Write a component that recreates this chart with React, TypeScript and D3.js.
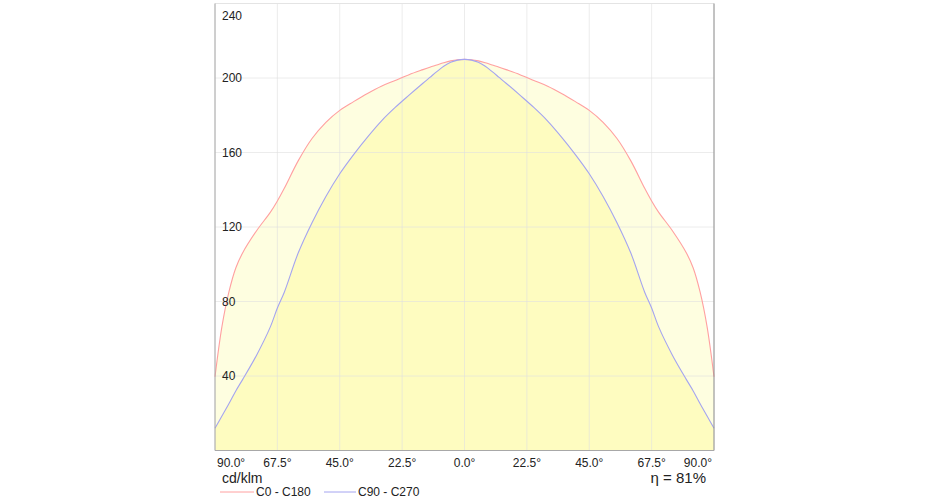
import React from "react";
import * as d3 from "d3";

const angles = [0, 2.5, 5, 7.5, 10, 12.5, 15, 20, 25, 30, 35, 40, 45, 50, 55, 60, 65, 67.5, 70, 75, 80, 82.5, 85, 87.5, 90];
const c0c180 = [210, 209.8, 209.2, 208.2, 207, 205.8, 204.5, 201.8, 198.7, 195.6, 191.7, 187.3, 182.6, 176.2, 167.5, 155.5, 140.8, 134, 128, 118, 106.2, 98, 85, 66.5, 39.6];
const c90c270 = [210, 209.6, 208.4, 206.3, 203.4, 200.3, 197.2, 190.8, 184.2, 176.9, 168.3, 158.9, 148.6, 136.4, 122.3, 106, 85, 76.5, 66.5, 51.2, 38.2, 32, 25.1, 18.5, 12];
const yTicks = [40, 80, 120, 160, 200, 240];
const xTicks = [-90, -67.5, -45, -22.5, 0, 22.5, 45, 67.5, 90];
const seriesNames = ["C0 - C180", "C90 - C270"];
const efficiency = "η = 81%";
const unitLabel = "cd/klm";

function mirror(vals: number[]) {
  const pts: [number, number][] = [];
  for (let i = angles.length - 1; i >= 0; i--) pts.push([-angles[i], vals[i]]);
  for (let i = 1; i < angles.length; i++) pts.push([angles[i], vals[i]]);
  return pts;
}

export default function App() {
  const W = 930, H = 500;
  const left = 215, right = 714, top = 3.5, bottom = 450.5;
  const x = d3.scaleLinear().domain([-90, 90]).range([left, right]);
  const y = d3.scaleLinear().domain([0, 240]).range([bottom, top]);
  const line = d3.line<[number, number]>().x(d => x(d[0])).y(d => y(d[1])).curve(d3.curveCatmullRom.alpha(0.5));
  const area = d3.area<[number, number]>().x(d => x(d[0])).y0(y(0)).y1(d => y(d[1])).curve(d3.curveCatmullRom.alpha(0.5));
  const red = mirror(c0c180);
  const blue = mirror(c90c270);
  const font = "'Liberation Sans', Arial, sans-serif";
  return (
    <svg width={W} height={H} style={{ position: "absolute", left: 0, top: 0 }} fontFamily={font}>
      <rect x={0} y={0} width={W} height={H} fill="#fff" />
      <path d={area(red) || ""} fill="#fefee0" />
      <path d={area(blue) || ""} fill="#fefcc0" />
      {yTicks.map(t => (
        <line key={"gy" + t} x1={left} x2={right} y1={y(t)} y2={y(t)} stroke="#e0e0e0" strokeOpacity={0.6} />
      ))}
      {xTicks.map(t => (
        <line key={"gx" + t} x1={x(t)} x2={x(t)} y1={top} y2={bottom} stroke="#e0e0e0" strokeOpacity={0.6} />
      ))}
      <path d={line(red) || ""} fill="none" stroke="#ffa0a0" strokeWidth={1.1} />
      <path d={line(blue) || ""} fill="none" stroke="#a4a4f0" strokeWidth={1.1} />
      <line x1={left} x2={right} y1={top} y2={top} stroke="#e4e4e4" />
      <line x1={left} x2={left} y1={top} y2={bottom} stroke="#a8a8a8" />
      <line x1={right} x2={right} y1={top} y2={bottom} stroke="#909090" />
      <line x1={left} x2={right} y1={bottom} y2={bottom} stroke="#a8a8a8" />
      {yTicks.map(t => (
        <text key={"ly" + t} x={222} y={t === 240 ? 16 : y(t)} dy="0.35em" fontSize={12} fill="#222">{t}</text>
      ))}
      {xTicks.map((t, i) => {
        const anchor = i === 0 ? "start" : i === xTicks.length - 1 ? "end" : "middle";
        const px = i === 0 ? left + 2 : i === xTicks.length - 1 ? right - 2 : x(t);
        return (
          <text key={"lx" + t} x={px} y={463} dy="0.35em" fontSize={12} fill="#222" textAnchor={anchor}>
            {Math.abs(t).toFixed(1)}°
          </text>
        );
      })}
      <text x={222} y={478} dy="0.35em" fontSize={14} fill="#222">{unitLabel}</text>
      <text x={706} y={478} dy="0.35em" fontSize={15} fill="#222" textAnchor="end">{efficiency}</text>
      <line x1={220} x2={254} y1={492} y2={492} stroke="#ffa0a0" />
      <text x={256} y={492} dy="0.35em" fontSize={12} fill="#222">{seriesNames[0]}</text>
      <line x1={324} x2={356} y1={492} y2={492} stroke="#a4a4f0" />
      <text x={358} y={492} dy="0.35em" fontSize={12} fill="#222">{seriesNames[1]}</text>
    </svg>
  );
}
